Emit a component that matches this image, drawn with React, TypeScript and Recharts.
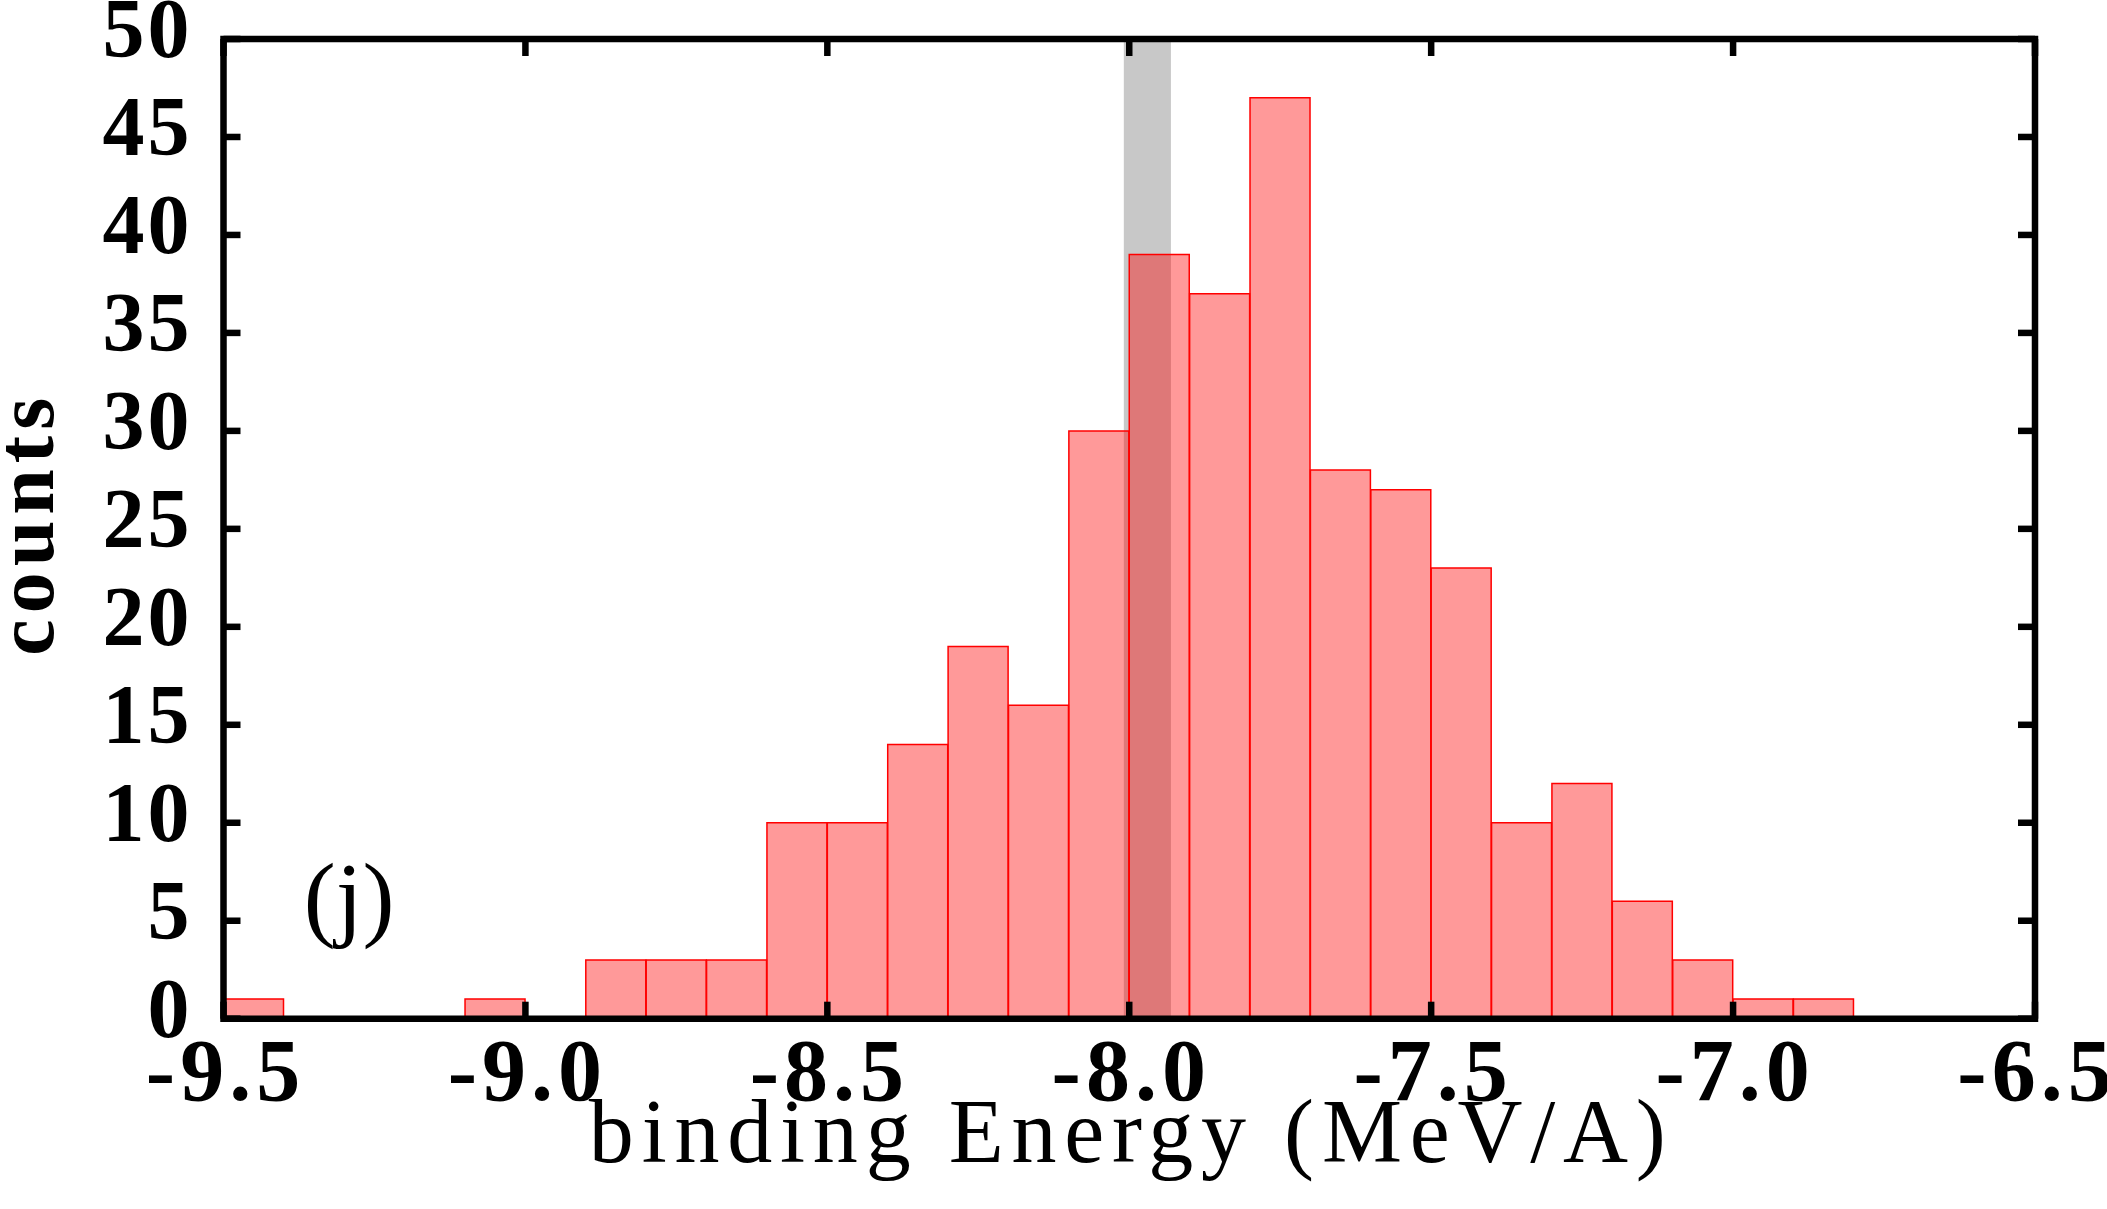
import React from 'react';
import { ComposedChart, Bar, XAxis, YAxis, ReferenceArea, ReferenceDot } from 'recharts';

// Histogram bins (bin centres, bin width 0.1 MeV/A) and counts
const binCenters = [
  -9.45, -9.35, -9.25, -9.15, -9.05, -8.95, -8.85, -8.75, -8.65, -8.55,
  -8.45, -8.35, -8.25, -8.15, -8.05, -7.95, -7.85, -7.75, -7.65, -7.55,
  -7.45, -7.35, -7.25, -7.15, -7.05, -6.95, -6.85,
];
const counts = [
  1, 0, 0, 0, 1, 0, 3, 3, 3, 10,
  10, 14, 19, 16, 30, 39, 37, 47, 28, 27,
  23, 10, 12, 6, 3, 1, 1,
];

const xTicks = [-9.5, -9.0, -8.5, -8.0, -7.5, -7.0, -6.5];
const xTickLabels = ['-9.5', '-9.0', '-8.5', '-8.0', '-7.5', '-7.0', '-6.5'];
const yTicks = [0, 5, 10, 15, 20, 25, 30, 35, 40, 45, 50];
const yTickLabels = ['0', '5', '10', '15', '20', '25', '30', '35', '40', '45', '50'];

const band = { from: -8.009, to: -7.931 };
const panelLabel = { text: '(j)', x: -9.292, y: 4.6 };
const xTitle = 'binding Energy (MeV/A)';
const yTitle = 'counts';

const data = binCenters.map((x, i) => ({ x, count: counts[i] }));

const FONT = "'Liberation Serif', 'Times New Roman', serif";
const TICK_LEN = 17;
const TICK_W = 6.5;

const xLabelFor = (v: number) => {
  const i = xTicks.findIndex((t) => Math.abs(t - v) < 1e-9);
  return i >= 0 ? xTickLabels[i] : String(v);
};
const yLabelFor = (v: number) => {
  const i = yTicks.findIndex((t) => Math.abs(t - v) < 1e-9);
  return i >= 0 ? yTickLabels[i] : String(v);
};

const BottomTick = (props: any) => {
  const { x, y, payload } = props;
  return (
    <g>
      <line x1={x} x2={x} y1={y} y2={y - TICK_LEN} stroke="#000" strokeWidth={TICK_W} />
      <text
        x={x + 2}
        y={y + 81}
        textAnchor="middle"
        fontFamily={FONT}
        fontWeight="bold"
        fontSize={88}
        letterSpacing={5}
        fill="#000"
      >
        {xLabelFor(payload.value)}
      </text>
    </g>
  );
};

const TopTick = (props: any) => {
  const { x, y } = props;
  return <line x1={x} x2={x} y1={y} y2={y + TICK_LEN} stroke="#000" strokeWidth={TICK_W} />;
};

const LeftTick = (props: any) => {
  const { x, y, payload } = props;
  return (
    <g>
      <line x1={x} x2={x + TICK_LEN} y1={y} y2={y} stroke="#000" strokeWidth={TICK_W} />
      <text
        x={x - 31}
        y={y + 18}
        textAnchor="end"
        fontFamily={FONT}
        fontWeight="bold"
        fontSize={84}
        letterSpacing={3}
        fill="#000"
      >
        {yLabelFor(payload.value)}
      </text>
    </g>
  );
};

const RightTick = (props: any) => {
  const { x, y } = props;
  return <line x1={x} x2={x - TICK_LEN} y1={y} y2={y} stroke="#000" strokeWidth={TICK_W} />;
};

const XTitle = (props: any) => {
  const vb = props.viewBox || { x: 0, y: 0, width: 0 };
  return (
    <text
      x={vb.x + vb.width / 2 + 2}
      y={vb.y + 143}
      textAnchor="middle"
      fontFamily={FONT}
      fontSize={90}
      letterSpacing={7.8}
      fill="#000"
    >
      {xTitle}
    </text>
  );
};

const YTitle = (props: any) => {
  const vb = props.viewBox || { x: 0, y: 0, height: 0 };
  const cx = vb.x + 53;
  const cy = vb.y + vb.height / 2 - 5;
  return (
    <text
      x={cx}
      y={cy}
      transform={`rotate(-90 ${cx} ${cy})`}
      textAnchor="middle"
      fontFamily={FONT}
      fontWeight="bold"
      fontSize={82}
      letterSpacing={6}
      fill="#000"
    >
      {yTitle}
    </text>
  );
};

const PanelText = (props: any) => {
  const vb = props.viewBox || { x: 0, y: 0, width: 0, height: 0 };
  const cx = vb.x + (vb.width || 0) / 2;
  const cy = vb.y + (vb.height || 0) / 2;
  return (
    <text x={cx} y={cy} textAnchor="middle" fontFamily={FONT} fontSize={96} fill="#000">
      {panelLabel.text}
    </text>
  );
};

export default function App() {
  return (
    <div style={{ position: 'absolute', left: 0, top: 0, width: 2107, height: 1209, background: '#fff' }}>
      <ComposedChart
        width={2107}
        height={1209}
        data={data}
        margin={{ top: 38, right: 71, bottom: 40.3, left: 0 }}
        barCategoryGap={0}
        barGap={0}
      >
        <XAxis
          xAxisId="b"
          dataKey="x"
          type="number"
          domain={[-9.5, -6.5]}
          ticks={xTicks}
          allowDataOverflow
          interval={0}
          height={150}
          tickSize={0}
          tickMargin={0}
          axisLine={false}
          tickLine={false}
          tick={BottomTick}
          label={{ content: XTitle }}
        />
        <XAxis
          xAxisId="t"
          orientation="top"
          dataKey="x"
          type="number"
          domain={[-9.5, -6.5]}
          ticks={xTicks}
          allowDataOverflow
          interval={0}
          height={1}
          tickSize={0}
          tickMargin={0}
          axisLine={false}
          tickLine={false}
          tick={TopTick}
          zIndex={50}
        />
        <YAxis
          yAxisId="l"
          type="number"
          domain={[0, 50]}
          ticks={yTicks}
          allowDataOverflow
          interval={0}
          width={223.5}
          tickSize={0}
          tickMargin={0}
          axisLine={false}
          tickLine={false}
          tick={LeftTick}
          label={{ content: YTitle }}
        />
        <YAxis
          yAxisId="r"
          orientation="right"
          type="number"
          domain={[0, 50]}
          ticks={yTicks}
          allowDataOverflow
          interval={0}
          width={1}
          tickSize={0}
          tickMargin={0}
          axisLine={false}
          tickLine={false}
          tick={RightTick}
        />
        <ReferenceArea
          xAxisId="b"
          yAxisId="l"
          x1={band.from}
          x2={band.to}
          y1={0}
          y2={50}
          fill="#c8c8c8"
          fillOpacity={1}
          stroke="none"
          ifOverflow="visible"
        />
        <Bar
          xAxisId="b"
          yAxisId="l"
          dataKey="count"
          fill="#ff0000"
          fillOpacity={0.4}
          stroke="#ff0000"
          strokeWidth={1.5}
          isAnimationActive={false}
        />
        <ReferenceDot
          xAxisId="b"
          yAxisId="l"
          x={panelLabel.x}
          y={panelLabel.y}
          r={0}
          fill="none"
          stroke="none"
          label={{ content: PanelText }}
        />
        <ReferenceArea
          xAxisId="b"
          yAxisId="l"
          x1={-9.5}
          x2={-6.5}
          y1={0}
          y2={50}
          fill="none"
          stroke="#000"
          strokeWidth={6.5}
          ifOverflow="visible"
          zIndex={1000}
        />
      </ComposedChart>
    </div>
  );
}
